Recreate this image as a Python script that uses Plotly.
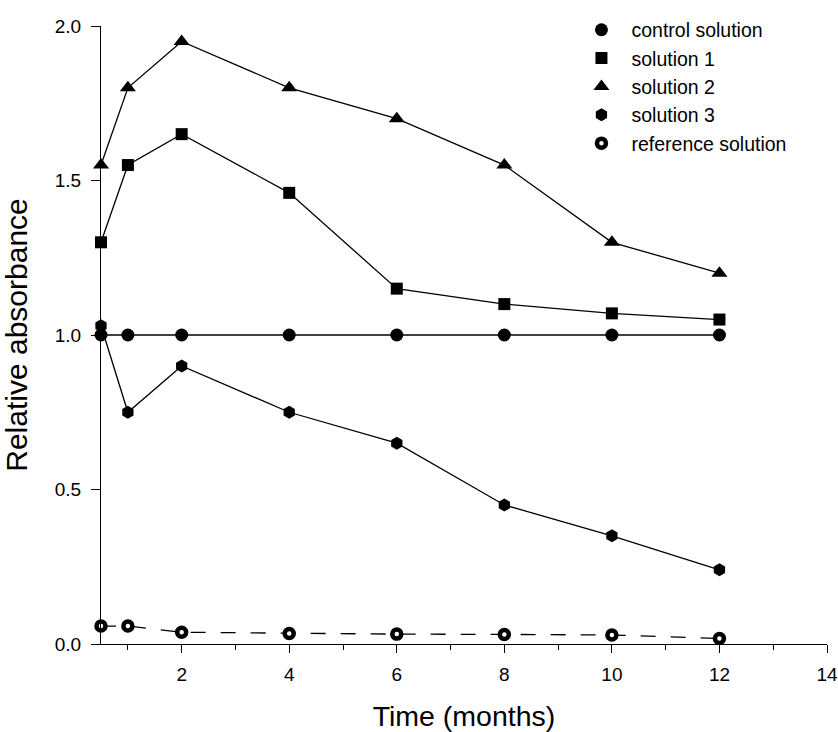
import plotly.graph_objects as go

months = [0.5, 1, 2, 4, 6, 8, 10, 12]
control = [1.0, 1.0, 1.0, 1.0, 1.0, 1.0, 1.0, 1.0]
solution1 = [1.30, 1.55, 1.65, 1.46, 1.15, 1.10, 1.07, 1.05]
solution2 = [1.55, 1.80, 1.95, 1.80, 1.70, 1.55, 1.30, 1.20]
solution3 = [1.03, 0.75, 0.90, 0.75, 0.65, 0.45, 0.35, 0.24]
reference = [0.058, 0.058, 0.038, 0.034, 0.032, 0.031, 0.029, 0.018]

names = ["control solution", "solution 1", "solution 2", "solution 3", "reference solution"]
series = [control, solution1, solution2, solution3, reference]
symbols = ["circle", "square", "triangle-up", "hexagon", "circle"]
sizes = [13, 12, 14, 13, 9]
dashes = ["solid", "solid", "solid", "solid", "longdash"]


def make_marker(name, sym, sz):
    is_ref = name == "reference solution"
    return dict(symbol=sym, size=sz, color="white" if is_ref else "black",
                line=dict(color="black", width=4.5 if is_ref else 0))


fig = go.Figure()
for name, ys, sym, sz, dash in zip(names, series, symbols, sizes, dashes):
    fig.add_trace(go.Scatter(
        x=months, y=ys, mode="lines+markers", name=name, showlegend=False,
        line=dict(color="black", width=1.3, dash=dash),
        marker=make_marker(name, sym, sz), cliponaxis=False))

for name, sym, sz in zip(names, symbols, sizes):
    fig.add_trace(go.Scatter(x=[None], y=[None], mode="markers", name=name,
                             marker=make_marker(name, sym, sz), showlegend=True))

fig.update_layout(
    width=838, height=732,
    margin=dict(l=101, r=11, t=23, b=88),
    paper_bgcolor="white", plot_bgcolor="white",
    font=dict(family="Liberation Sans, Arial, sans-serif", color="black", size=19),
    showlegend=True,
    legend=dict(x=0.648, y=1.025, xanchor="left", yanchor="top", itemwidth=50,
                font=dict(size=19.5), bgcolor="rgba(0,0,0,0)", tracegroupgap=0),
)
fig.update_xaxes(
    range=[0.5, 14], tick0=0, dtick=2, ticks="outside", ticklen=8, tickwidth=1,
    tickcolor="black", showline=True, linecolor="black", linewidth=1,
    showgrid=False, zeroline=False, ticklabelstandoff=5, automargin=False,
    minor=dict(dtick=1, tick0=0, ticks="outside", ticklen=5, tickwidth=1, tickcolor="black", showgrid=False),
    title=dict(text="Time (months)", font=dict(size=28.5), standoff=24),
    tickfont=dict(size=19),
)
fig.update_yaxes(
    range=[0, 2.0], tick0=0, dtick=0.5, tickformat=".1f", ticks="outside", ticklen=9,
    tickwidth=1, tickcolor="black", showline=True, linecolor="black", linewidth=1,
    showgrid=False, zeroline=False, ticklabelstandoff=6, automargin=False,
    title=dict(text="Relative absorbance", font=dict(size=30), standoff=18),
    tickfont=dict(size=19),
)

fig.write_html("out.html")
